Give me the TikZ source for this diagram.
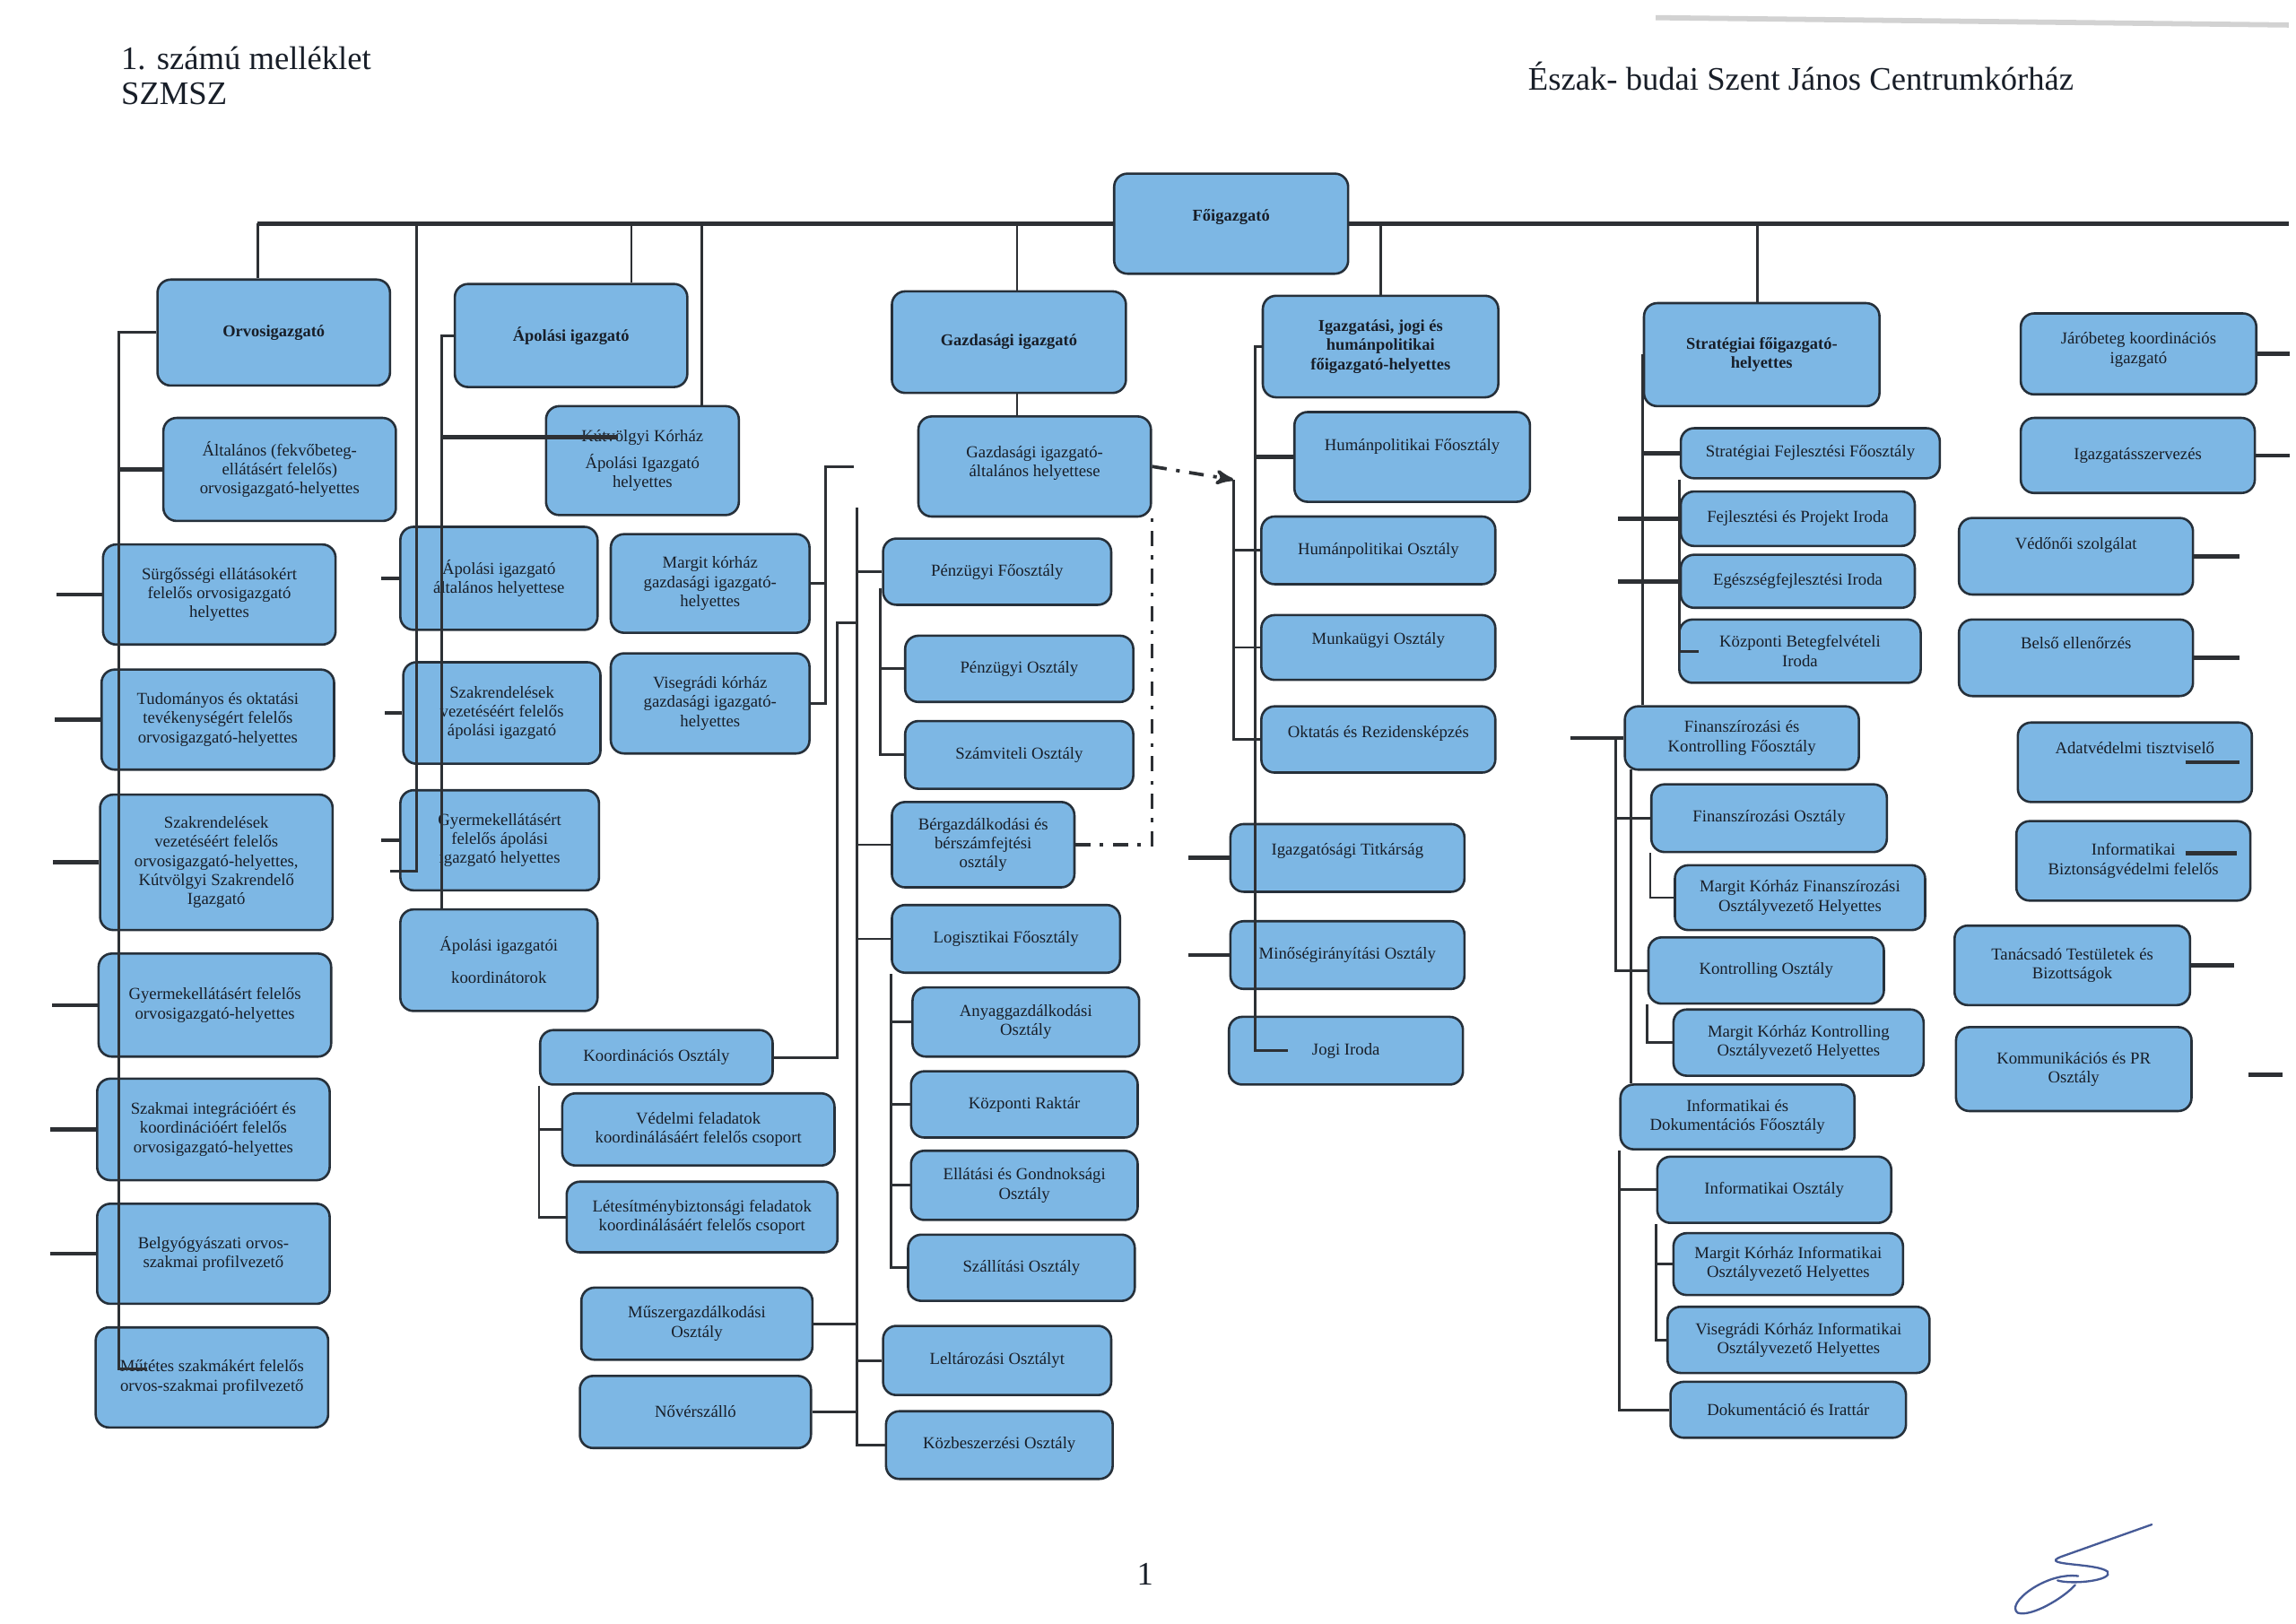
\documentclass[tikz,border=0pt]{standalone}
\usepackage{fontspec}
\setmainfont{Liberation Serif}
\usepackage{tikz}
\usetikzlibrary{arrows}
\usetikzlibrary{calc}

\definecolor{boxfill}{RGB}{125,183,228}
\definecolor{boxline}{RGB}{38,48,58}
\definecolor{linecol}{RGB}{45,48,52}
\definecolor{txt}{RGB}{24,30,40}
\definecolor{signcol}{RGB}{70,90,150}

\newcommand{\pu}{*0.2mm}
\tikzset{every picture/.style={>=stealth'}}
\tikzstyle{box}     = [draw=boxline, line width=0.9pt, fill=boxfill, rounded corners=1.8mm, align=center, text=txt, inner sep=1pt, font=\fontsize{6.5}{7.4}\selectfont]
\tikzstyle{headbox} = [box, font=\fontsize{6.4}{7.4}\selectfont\bfseries]
\tikzstyle{conn}    = [draw=linecol, line width=1pt]
\tikzstyle{stub}    = [draw=linecol, line width=1.6pt]
\tikzstyle{ddline}  = [draw=linecol, line width=1.3pt, dash pattern=on 2mm off 1.3mm on 0.5mm off 1.3mm]
\tikzstyle{hdr}     = [inner sep=0pt, anchor=base west, text=txt, font=\fontsize{12.7}{15}\selectfont]
\tikzstyle{signpen} = [draw=signcol, line width=0.8pt, line cap=round]
\tikzset{sz/.style 2 args={minimum width=#1\pu, minimum height=#2\pu}}
\tikzset{liftup/.style={text depth=#1}}

\begin{document}
\begin{tikzpicture}[x=0.2mm, y=-0.2mm]
	\fill[white] (0,0) rectangle (1560,1103);
	\useasboundingbox (0,0) rectangle (1560,1103);

	\node[hdr] (mel) at (82,47) {1. számú melléklet};
	\node[hdr] (szm) at (82,71) {SZMSZ};
	\node[hdr] (esz) at (1038,61) {Észak- budai Szent János Centrumkórház};
	\node[hdr, anchor=base] (pg) at (778,1077) {1};

	\node[headbox, sz={159}{68}, liftup=2.4mm] (fo) at (836.5,152) {Főigazgató};

	\node[headbox, sz={158}{72}] (orv) at (186,226) {Orvosigazgató};
	\node[box, sz={158}{70}] (alt) at (190,319) {Általános (fekvőbeteg-\\ellátásért felelős)\\orvosigazgató-helyettes};
	\node[box, sz={158}{68}] (sur) at (149,404) {Sürgősségi ellátásokért\\felelős orvosigazgató\\helyettes};
	\node[box, sz={158}{68}] (tud) at (148,489) {Tudományos és oktatási\\tevékenységért felelős\\orvosigazgató-helyettes};
	\node[box, sz={158}{92}] (szo) at (147,586) {Szakrendelések\\vezetéséért felelős\\orvosigazgató-helyettes,\\Kútvölgyi Szakrendelő\\Igazgató};
	\node[box, sz={158}{70}] (gyo) at (146,683) {Gyermekellátásért felelős\\orvosigazgató-helyettes};
	\node[box, sz={158}{69}] (szi) at (145,767.5) {Szakmai integrációért és\\koordinációért felelős\\orvosigazgató-helyettes};
	\node[box, sz={158}{68}] (bgy) at (145,852) {Belgyógyászati orvos-\\szakmai profilvezető};
	\node[box, sz={158}{68}] (mut) at (144,936) {Műtétes szakmákért felelős\\orvos-szakmai profilvezető};

	\node[headbox, sz={158}{70}] (apo) at (388,228) {Ápolási igazgató};
	\node[box, sz={131}{74}] (kut) at (436.5,313) {Kútvölgyi Kórház\\[3pt]Ápolási Igazgató\\helyettes};
	\node[box, sz={134}{70}] (aah) at (339,393) {Ápolási igazgató\\általános helyettese};
	\node[box, sz={135}{67}] (mgh) at (482.5,396.5) {Margit kórház\\gazdasági igazgató-\\helyettes};
	\node[box, sz={134}{69}] (sza) at (341,484.5) {Szakrendelések\\vezetéséért felelős\\ápolási igazgató};
	\node[box, sz={135}{68}] (vgh) at (482.5,478) {Visegrádi kórház\\gazdasági igazgató-\\helyettes};
	\node[box, sz={135}{68}] (gya) at (339.5,571) {Gyermekellátásért\\felelős ápolási\\igazgató helyettes};
	\node[box, sz={134}{69}] (koo) at (339,652.5) {Ápolási igazgatói\\[5pt]koordinátorok};

	\node[headbox, sz={159}{69}] (gaz) at (685.5,232.5) {Gazdasági igazgató};
	\node[box, sz={158}{68}, liftup=1.4mm] (gah) at (703,317) {Gazdasági igazgató-\\általános helyettese};
	\node[box, sz={155}{45}] (pfo) at (677.5,388.5) {Pénzügyi Főosztály};
	\node[box, sz={155}{45}] (pos) at (692.5,454.5) {Pénzügyi Osztály};
	\node[box, sz={155}{46}] (szv) at (692.5,513) {Számviteli Osztály};
	\node[box, sz={124}{58}] (ber) at (668,574) {Bérgazdálkodási és\\bérszámfejtési\\osztály};
	\node[box, sz={155}{46}] (lfo) at (683.5,638) {Logisztikai Főosztály};
	\node[box, sz={154}{47}] (any) at (697,694.5) {Anyaggazdálkodási\\Osztály};
	\node[box, sz={154}{45}] (kra) at (696,750.5) {Központi Raktár};
	\node[box, sz={154}{47}] (ell) at (696,805.5) {Ellátási és Gondnoksági\\Osztály};
	\node[box, sz={154}{45}] (szl) at (694,861.5) {Szállítási Osztály};
	\node[box, sz={158}{37}] (kos) at (446,718.5) {Koordinációs Osztály};
	\node[box, sz={185}{49}] (ved) at (474.5,767.5) {Védelmi feladatok\\koordinálásáért felelős csoport};
	\node[box, sz={184}{48}] (let) at (477,827) {Létesítménybiztonsági feladatok\\koordinálásáért felelős csoport};
	\node[box, sz={157}{49}] (msz) at (473.5,899.5) {Műszergazdálkodási\\Osztály};
	\node[box, sz={157}{49}] (nov) at (472.5,959.5) {Nővérszálló};
	\node[box, sz={155}{47}] (lel) at (677.5,924.5) {Leltározási Osztályt};
	\node[box, sz={154}{46}] (kbo) at (679,982) {Közbeszerzési Osztály};

	\node[headbox, sz={160}{69}] (igh) at (938,235.5) {Igazgatási, jogi és\\humánpolitikai\\főigazgató-helyettes};
	\node[box, sz={160}{61}, liftup=3.4mm] (hfo) at (959.5,310.5) {Humánpolitikai Főosztály};
	\node[box, sz={159}{46}] (hos) at (936.5,374) {Humánpolitikai Osztály};
	\node[box, sz={159}{44}, liftup=2.4mm] (mun) at (936.5,440) {Munkaügyi Osztály};
	\node[box, sz={159}{45}, liftup=2.2mm] (okt) at (936.5,502.5) {Oktatás és Rezidensképzés};
	\node[box, sz={159}{46}, liftup=2.4mm] (tit) at (915.5,583) {Igazgatósági Titkárság};
	\node[box, sz={159}{46}] (min) at (915.5,649) {Minőségirányítási Osztály};
	\node[box, sz={159}{46}] (jog) at (914.5,714) {Jogi Iroda};

	\node[headbox, sz={160}{70}] (str) at (1197,241) {Stratégiai főigazgató-\\helyettes};
	\node[box, sz={176}{34}] (sfo) at (1230,308) {Stratégiai Fejlesztési Főosztály};
	\node[box, sz={159}{37}] (fpi) at (1221.5,352.5) {Fejlesztési és Projekt Iroda};
	\node[box, sz={159}{36}] (egi) at (1221.5,395) {Egészségfejlesztési Iroda};
	\node[box, sz={164}{43}] (kbi) at (1223,442.5) {Központi Betegfelvételi\\Iroda};
	\node[box, sz={159}{43}] (fkf) at (1183.5,501.5) {Finanszírozási és\\Kontrolling Főosztály};
	\node[box, sz={160}{46}] (fos) at (1202,556) {Finanszírozási Osztály};
	\node[box, sz={170}{44}] (mkf) at (1223,610) {Margit Kórház Finanszírozási\\Osztályvezető Helyettes};
	\node[box, sz={160}{45}] (kon) at (1200,659.5) {Kontrolling Osztály};
	\node[box, sz={170}{45}] (mkk) at (1222,708.5) {Margit Kórház Kontrolling\\Osztályvezető Helyettes};
	\node[box, sz={159}{44}] (idf) at (1180.5,759) {Informatikai és\\Dokumentációs Főosztály};
	\node[box, sz={159}{45}] (ios) at (1205.5,808.5) {Informatikai Osztály};
	\node[box, sz={156}{42}] (mki) at (1215,859) {Margit Kórház Informatikai\\Osztályvezető Helyettes};
	\node[box, sz={178}{45}] (vki) at (1222,910.5) {Visegrádi Kórház Informatikai\\Osztályvezető Helyettes};
	\node[box, sz={160}{38}] (dok) at (1215,958) {Dokumentáció és Irattár};

	\node[box, sz={160}{55}, liftup=1.6mm] (jar) at (1453,240.5) {Járóbeteg koordinációs\\igazgató};
	\node[box, sz={159}{51}] (isz) at (1452.5,309.5) {Igazgatásszervezés};
	\node[box, sz={159}{52}, liftup=3.6mm] (vsz) at (1410.5,378) {Védőnői szolgálat};
	\node[box, sz={159}{52}, liftup=4mm] (bee) at (1410.5,447) {Belső ellenőrzés};
	\node[box, sz={159}{54}, liftup=4mm] (adt) at (1450.5,518) {Adatvédelmi tisztviselő};
	\node[box, sz={159}{54}] (ibf) at (1449.5,585) {Informatikai\\Biztonságvédelmi felelős};
	\node[box, sz={160}{54}] (tan) at (1408,656) {Tanácsadó Testületek és\\Bizottságok};
	\node[box, sz={160}{57}] (kom) at (1409,726.5) {Kommunikációs és PR\\Osztály};

	\coordinate (tl) at (175,152);
	\coordinate (tr) at (1555,152);
	\coordinate (d2) at (283,152);
	\coordinate (d3) at (429,152);
	\coordinate (d4) at (477,152);
	\coordinate (d5) at (691,152);
	\coordinate (d6) at (938,152);
	\coordinate (d7) at (1194,152);
	\draw[stub] (tl) -- (fo.west) (fo.east) -- (tr);
	\draw[conn] (tl) -- (tl |- orv.north);
	\draw[conn] (d3) -- (d3 |- apo.north);
	\draw[conn] (d4) -- (d4 |- kut.north);
	\draw[conn] (d5) -- (d5 |- gaz.north);
	\draw[conn] (d5 |- gaz.south) -- (d5 |- gah.north);
	\draw[conn] (d6) -- (d6 |- igh.north);
	\draw[conn] (d7) -- (d7 |- str.north);

	\coordinate (ob) at (81,226);
	\coordinate (oe) at (100,930);
	\draw[conn] (orv.west) -- (ob) |- (oe);
	\draw[stub] (alt.west) -- (alt.west -| ob);
	\foreach \n in {sur,tud,szo,gyo,szi,bgy}
		\draw[stub] (\n.west) -- ++(-31,0);

	\coordinate (ae) at (265,592);
	\coordinate (ab) at (300,228);
	\coordinate (ak) at (420,297);
	\draw[conn] (d2) |- (ae);
	\draw[conn] (apo.west) -- (ab) -- (ab |- koo.north);
	\draw[stub] (ab |- ak) -- (ak);
	\foreach \n in {aah,sza,gya}
		\draw[stub] (\n.west) -- ++(-12,0);

	\coordinate (mv) at (580,317);
	\draw[conn] (mv) -- ++(-19,0) |- (vgh.east);
	\draw[conn] (mgh.east) -- ++(11,0);

	\coordinate (ah) at (838,326);
	\draw[ddline, ->] (gah.east) -- (ah);
	\draw[ddline] (ber.east) -| (gah.south east);

	\coordinate (gb) at (582,345);
	\coordinate (kj) at (569,423);
	\coordinate (pb) at (598,400);
	\draw[conn] (gb) |- (kbo.west);
	\foreach \n in {pfo,ber,lfo,lel}
		\draw[conn] (\n.west) -- (\n.west -| gb);
	\foreach \n in {msz,nov}
		\draw[conn] (\n.east) -- (\n.east -| gb);
	\draw[conn] (kos.east) -| (kj) -- (kj -| gb);
	\draw[conn] (pb) |- (szv.west);
	\draw[conn] (pos.west) -- (pos.west -| pb);
	\draw[conn] (lfo.south west) |- (szl.west);
	\foreach \n in {any,kra,ell}
		\draw[conn] (\n.west) -- (\n.west -| lfo.south west);
	\draw[conn] (kos.south west) |- (let.west);
	\draw[conn] (ved.west) -- (ved.west -| kos.south west);

	\coordinate (ib) at (853,235.5);
	\coordinate (je) at (875,714);
	\draw[conn] (igh.west) -- (ib) |- (je);
	\draw[stub] (hfo.west) -- (hfo.west -| ib);
	\draw[conn] (ah) |- (okt.west);
	\foreach \n in {hos,mun}
		\draw[conn] (\n.west) -- (\n.west -| ah);
	\foreach \n in {tit,min}
		\draw[stub] (\n.west) -- ++(-28,0);

	\draw[conn] (str.west) -- (str.west |- fkf.north);
	\draw[stub] (sfo.west) -- (sfo.west -| str.west);
	\draw[conn] (sfo.south west) |- ([xshift=14\pu]kbi.west);
	\foreach \n in {fpi,egi}
		\draw[stub] (\n.west) -- ++(-42,0);

	\coordinate (fb) at (1098,501.5);
	\coordinate (fc) at (1108,523);
	\draw[stub] (fkf.west) -- ++(-36,0);
	\draw[conn] (fb) |- (kon.west);
	\draw[conn] (fos.west) -- (fos.west -| fb);
	\draw[conn] (fc) -- (fc |- idf.north);
	\draw[conn] (fos.south west) |- (mkf.west);
	\draw[conn] (kon.south west) |- (mkk.west);

	\draw[conn] (idf.south west) |- (dok.west);
	\draw[conn] (ios.west) -- (ios.west -| idf.south west);
	\draw[conn] (ios.south west) |- (vki.west);
	\draw[conn] (mki.west) -- (mki.west -| ios.south west);

	\draw[stub] (jar.east) -- ++(22,0);
	\draw[stub] (isz.east) -- ++(23,0);
	\draw[stub] (vsz.east) -- ++(31,0);
	\draw[stub] (bee.east) -- ++(31,0);
	\draw[stub] ([xshift=-46\pu]adt.east) -- ++(37,0);
	\draw[stub] ([xshift=-45\pu, yshift=5\pu]ibf.east) -- ++(35,0);
	\draw[stub] (tan.east) -- ++(29,0);
	\draw[stub] ([xshift=38\pu, yshift=-4\pu]kom.east) -- ++(23,0);

	\draw[gray!35, line width=2pt] (1125,12) -- (1555,17);
	\draw[signpen] (1462,1036) -- (1400,1058) .. controls (1385,1064) and (1425,1062) .. (1432,1068) .. controls (1436,1074) and (1408,1077) .. (1398,1074);
	\draw[signpen] (1412,1071) .. controls (1390,1068) and (1362,1090) .. (1371,1096) .. controls (1380,1099) and (1402,1086) .. (1410,1077);
\end{tikzpicture}
\end{document}
